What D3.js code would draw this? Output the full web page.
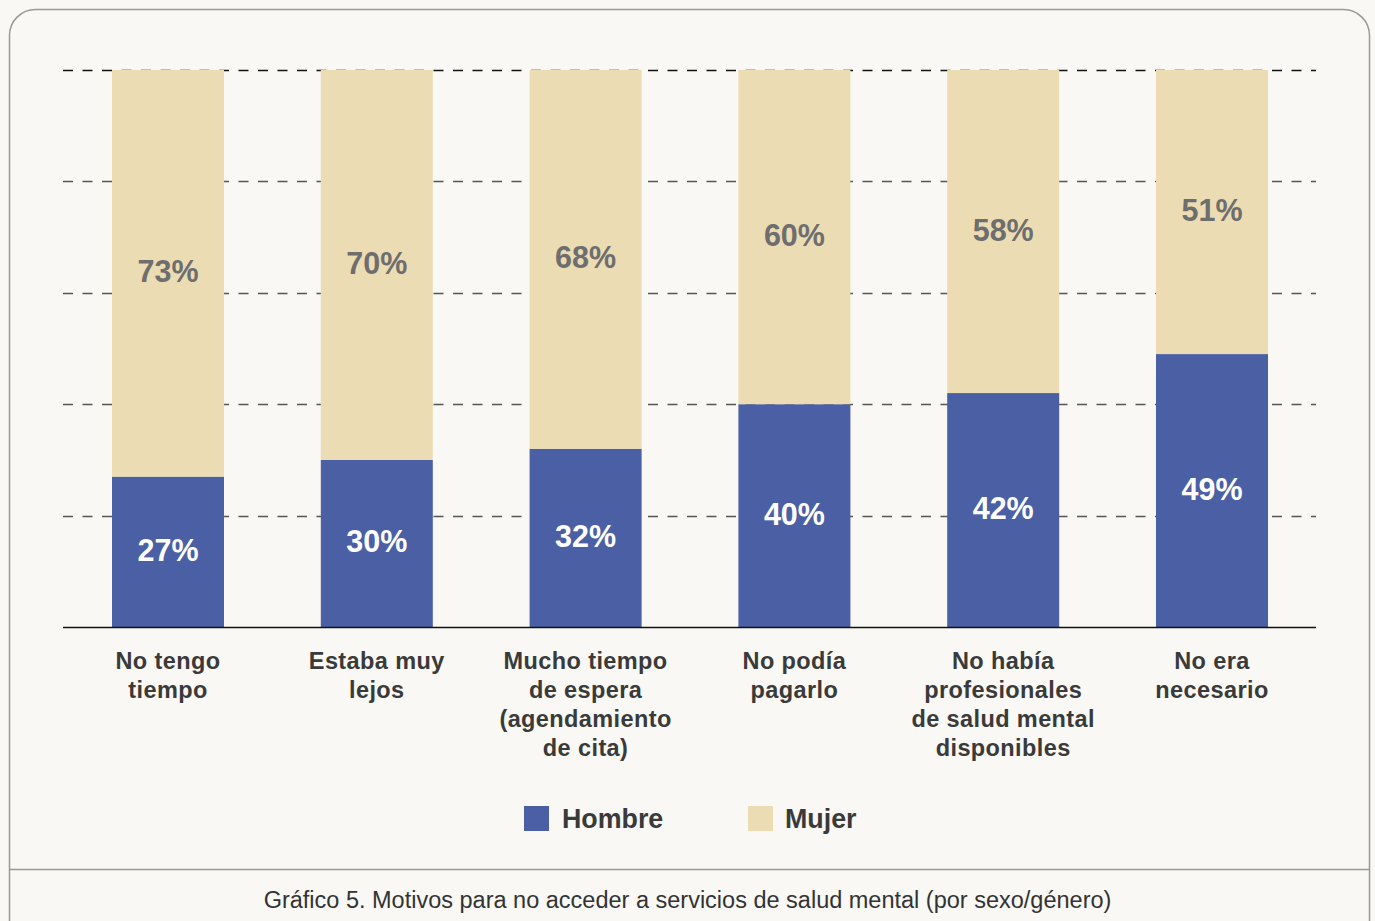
<!DOCTYPE html>
<html><head><meta charset="utf-8">
<script src="https://cdn.jsdelivr.net/npm/d3@7"></script>
<style>
html,body{margin:0;padding:0;background:#f9f8f4;}
svg{display:block;}
</style></head>
<body>
<svg id="chart" width="1375" height="921"></svg>
<script>
const categories = [
  ["No tengo","tiempo"],
  ["Estaba muy","lejos"],
  ["Mucho tiempo","de espera","(agendamiento","de cita)"],
  ["No podía","pagarlo"],
  ["No había","profesionales","de salud mental","disponibles"],
  ["No era","necesario"]
];
const hombre = [27, 30, 32, 40, 42, 49];
const mujer  = [73, 70, 68, 60, 58, 51];
const seriesNames = ["Hombre", "Mujer"];
const yTicks = [0, 20, 40, 60, 80, 100];
const caption = "Gráfico 5. Motivos para no acceder a servicios de salud mental (por sexo/género)";

const colors = {Hombre:"#4b5fa4", Mujer:"#ecdcb4"};
const font = "'Liberation Sans', Arial, Helvetica, sans-serif";

const svg = d3.select("#chart");

// frame
svg.append("rect").attr("x",9.5).attr("y",9.5).attr("width",1360).attr("height",940)
  .attr("rx",26).attr("ry",26).attr("fill","#f9f8f4").attr("stroke","#999").attr("stroke-width",1.5);
svg.append("line").attr("x1",9.5).attr("x2",1369.5).attr("y1",869.5).attr("y2",869.5)
  .attr("stroke","#999").attr("stroke-width",1.5);

const idx = d3.range(categories.length);
const step = (1316.4-63.6)/6;
const xb = d3.scaleBand().domain(idx).range([63.6, 1316.4]).paddingInner(1-112/step).paddingOuter((1-112/step)/2);
const y = d3.scaleLinear().domain([0,100]).range([627, 70]);

// gridlines
const g = svg.append("g");
yTicks.filter(t => t > 0).forEach(t => {
  g.append("line").attr("x1",63).attr("x2",1316).attr("y1",Math.round(y(t))+0.5).attr("y2",Math.round(y(t))+0.5)
    .attr("stroke", t === 100 ? "#111" : "#555").attr("stroke-width",1.6).attr("stroke-dasharray","10,9.5");
});

const stackData = idx.map(i => ({i, Hombre: hombre[i], Mujer: mujer[i]}));
const stacked = d3.stack().keys(seriesNames)(stackData);

stacked.forEach(layer => {
  svg.append("g").selectAll("rect").data(layer).join("rect")
    .attr("x", d => xb(d.data.i)).attr("width", xb.bandwidth())
    .attr("y", d => y(d[1])).attr("height", d => y(d[0]) - y(d[1]))
    .attr("fill", colors[layer.key]);
  svg.append("g").selectAll("text").data(layer).join("text")
    .attr("x", d => xb(d.data.i) + xb.bandwidth()/2)
    .attr("y", d => (y(d[0]) + y(d[1]))/2 - 2)
    .attr("dy","0.36em").attr("text-anchor","middle")
    .attr("font-family", font).attr("font-weight","bold").attr("font-size",30.5)
    .attr("fill", layer.key === "Hombre" ? "#ffffff" : "#6e6e6e")
    .text(d => (d[1]-d[0]) + "%");
});

// baseline
svg.append("line").attr("x1",63).attr("x2",1316).attr("y1",627.5).attr("y2",627.5).attr("stroke","#111").attr("stroke-width",1.3);

// category labels
const cl = svg.append("g");
categories.forEach((lines, i) => {
  const t = cl.append("text").attr("text-anchor","middle").attr("font-family",font).attr("font-weight","bold")
    .attr("font-size",23.5).attr("letter-spacing","0.4px").attr("fill","#3a3a3a");
  lines.forEach((ln, k) => {
    t.append("tspan").attr("x", xb(i) + xb.bandwidth()/2).attr("y", 669 + k*29).text(ln);
  });
});

// legend
const legendPos = [{sq:524, tx:562}, {sq:748, tx:785}];
seriesNames.forEach((s, k) => {
  svg.append("rect").attr("x",legendPos[k].sq).attr("y",806).attr("width",25).attr("height",25).attr("fill",colors[s]);
  svg.append("text").attr("x",legendPos[k].tx).attr("y",828).attr("font-family",font).attr("font-weight","bold")
    .attr("font-size",26.8).attr("fill","#3a3a3a").text(s);
});

// caption
svg.append("text").attr("x",687.5).attr("y",908).attr("text-anchor","middle").attr("font-family",font)
  .attr("font-size",23.5).attr("fill","#333").text(caption);
</script>
</body></html>
